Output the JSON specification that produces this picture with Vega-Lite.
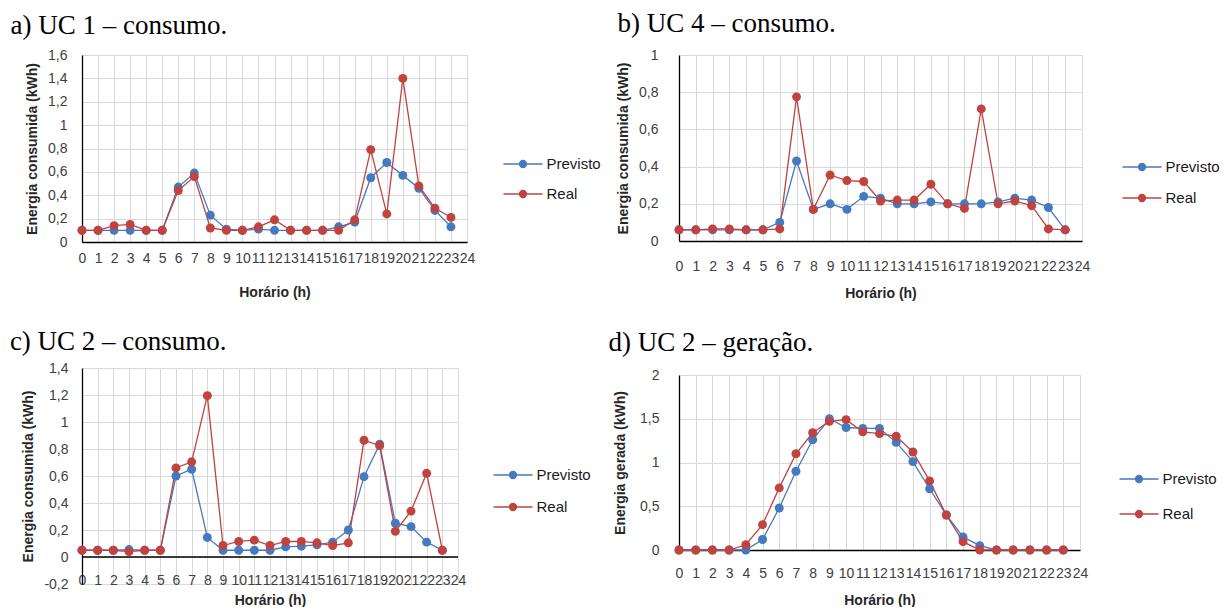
{
  "$schema": "https://vega.github.io/schema/vega-lite/v6.json",
  "padding": {"left": 9, "top": 10, "right": 0, "bottom": 0},
  "background": "white",
  "data": {"values": [
    {"panel":"a","serie":"Previsto","hora":0,"valor":0.10},{"panel":"a","serie":"Previsto","hora":1,"valor":0.10},{"panel":"a","serie":"Previsto","hora":2,"valor":0.10},{"panel":"a","serie":"Previsto","hora":3,"valor":0.10},{"panel":"a","serie":"Previsto","hora":4,"valor":0.10},{"panel":"a","serie":"Previsto","hora":5,"valor":0.10},{"panel":"a","serie":"Previsto","hora":6,"valor":0.47},{"panel":"a","serie":"Previsto","hora":7,"valor":0.59},{"panel":"a","serie":"Previsto","hora":8,"valor":0.23},{"panel":"a","serie":"Previsto","hora":9,"valor":0.11},{"panel":"a","serie":"Previsto","hora":10,"valor":0.10},{"panel":"a","serie":"Previsto","hora":11,"valor":0.11},{"panel":"a","serie":"Previsto","hora":12,"valor":0.10},{"panel":"a","serie":"Previsto","hora":13,"valor":0.10},{"panel":"a","serie":"Previsto","hora":14,"valor":0.10},{"panel":"a","serie":"Previsto","hora":15,"valor":0.10},{"panel":"a","serie":"Previsto","hora":16,"valor":0.13},{"panel":"a","serie":"Previsto","hora":17,"valor":0.17},{"panel":"a","serie":"Previsto","hora":18,"valor":0.55},{"panel":"a","serie":"Previsto","hora":19,"valor":0.68},{"panel":"a","serie":"Previsto","hora":20,"valor":0.57},{"panel":"a","serie":"Previsto","hora":21,"valor":0.46},{"panel":"a","serie":"Previsto","hora":22,"valor":0.27},{"panel":"a","serie":"Previsto","hora":23,"valor":0.13},
    {"panel":"a","serie":"Real","hora":0,"valor":0.10},{"panel":"a","serie":"Real","hora":1,"valor":0.10},{"panel":"a","serie":"Real","hora":2,"valor":0.14},{"panel":"a","serie":"Real","hora":3,"valor":0.15},{"panel":"a","serie":"Real","hora":4,"valor":0.10},{"panel":"a","serie":"Real","hora":5,"valor":0.10},{"panel":"a","serie":"Real","hora":6,"valor":0.44},{"panel":"a","serie":"Real","hora":7,"valor":0.56},{"panel":"a","serie":"Real","hora":8,"valor":0.12},{"panel":"a","serie":"Real","hora":9,"valor":0.10},{"panel":"a","serie":"Real","hora":10,"valor":0.10},{"panel":"a","serie":"Real","hora":11,"valor":0.13},{"panel":"a","serie":"Real","hora":12,"valor":0.19},{"panel":"a","serie":"Real","hora":13,"valor":0.10},{"panel":"a","serie":"Real","hora":14,"valor":0.10},{"panel":"a","serie":"Real","hora":15,"valor":0.10},{"panel":"a","serie":"Real","hora":16,"valor":0.10},{"panel":"a","serie":"Real","hora":17,"valor":0.19},{"panel":"a","serie":"Real","hora":18,"valor":0.79},{"panel":"a","serie":"Real","hora":19,"valor":0.24},{"panel":"a","serie":"Real","hora":20,"valor":1.40},{"panel":"a","serie":"Real","hora":21,"valor":0.48},{"panel":"a","serie":"Real","hora":22,"valor":0.29},{"panel":"a","serie":"Real","hora":23,"valor":0.21},
    {"panel":"b","serie":"Previsto","hora":0,"valor":0.06},{"panel":"b","serie":"Previsto","hora":1,"valor":0.06},{"panel":"b","serie":"Previsto","hora":2,"valor":0.06},{"panel":"b","serie":"Previsto","hora":3,"valor":0.06},{"panel":"b","serie":"Previsto","hora":4,"valor":0.06},{"panel":"b","serie":"Previsto","hora":5,"valor":0.06},{"panel":"b","serie":"Previsto","hora":6,"valor":0.10},{"panel":"b","serie":"Previsto","hora":7,"valor":0.43},{"panel":"b","serie":"Previsto","hora":8,"valor":0.17},{"panel":"b","serie":"Previsto","hora":9,"valor":0.20},{"panel":"b","serie":"Previsto","hora":10,"valor":0.17},{"panel":"b","serie":"Previsto","hora":11,"valor":0.24},{"panel":"b","serie":"Previsto","hora":12,"valor":0.23},{"panel":"b","serie":"Previsto","hora":13,"valor":0.20},{"panel":"b","serie":"Previsto","hora":14,"valor":0.20},{"panel":"b","serie":"Previsto","hora":15,"valor":0.21},{"panel":"b","serie":"Previsto","hora":16,"valor":0.20},{"panel":"b","serie":"Previsto","hora":17,"valor":0.20},{"panel":"b","serie":"Previsto","hora":18,"valor":0.20},{"panel":"b","serie":"Previsto","hora":19,"valor":0.21},{"panel":"b","serie":"Previsto","hora":20,"valor":0.23},{"panel":"b","serie":"Previsto","hora":21,"valor":0.22},{"panel":"b","serie":"Previsto","hora":22,"valor":0.18},{"panel":"b","serie":"Previsto","hora":23,"valor":0.06},
    {"panel":"b","serie":"Real","hora":0,"valor":0.06},{"panel":"b","serie":"Real","hora":1,"valor":0.06},{"panel":"b","serie":"Real","hora":2,"valor":0.065},{"panel":"b","serie":"Real","hora":3,"valor":0.065},{"panel":"b","serie":"Real","hora":4,"valor":0.06},{"panel":"b","serie":"Real","hora":5,"valor":0.06},{"panel":"b","serie":"Real","hora":6,"valor":0.065},{"panel":"b","serie":"Real","hora":7,"valor":0.775},{"panel":"b","serie":"Real","hora":8,"valor":0.17},{"panel":"b","serie":"Real","hora":9,"valor":0.355},{"panel":"b","serie":"Real","hora":10,"valor":0.325},{"panel":"b","serie":"Real","hora":11,"valor":0.32},{"panel":"b","serie":"Real","hora":12,"valor":0.215},{"panel":"b","serie":"Real","hora":13,"valor":0.22},{"panel":"b","serie":"Real","hora":14,"valor":0.22},{"panel":"b","serie":"Real","hora":15,"valor":0.305},{"panel":"b","serie":"Real","hora":16,"valor":0.20},{"panel":"b","serie":"Real","hora":17,"valor":0.175},{"panel":"b","serie":"Real","hora":18,"valor":0.71},{"panel":"b","serie":"Real","hora":19,"valor":0.20},{"panel":"b","serie":"Real","hora":20,"valor":0.215},{"panel":"b","serie":"Real","hora":21,"valor":0.19},{"panel":"b","serie":"Real","hora":22,"valor":0.065},{"panel":"b","serie":"Real","hora":23,"valor":0.06},
    {"panel":"c","serie":"Previsto","hora":0,"valor":0.05},{"panel":"c","serie":"Previsto","hora":1,"valor":0.05},{"panel":"c","serie":"Previsto","hora":2,"valor":0.05},{"panel":"c","serie":"Previsto","hora":3,"valor":0.055},{"panel":"c","serie":"Previsto","hora":4,"valor":0.05},{"panel":"c","serie":"Previsto","hora":5,"valor":0.05},{"panel":"c","serie":"Previsto","hora":6,"valor":0.60},{"panel":"c","serie":"Previsto","hora":7,"valor":0.65},{"panel":"c","serie":"Previsto","hora":8,"valor":0.145},{"panel":"c","serie":"Previsto","hora":9,"valor":0.05},{"panel":"c","serie":"Previsto","hora":10,"valor":0.05},{"panel":"c","serie":"Previsto","hora":11,"valor":0.05},{"panel":"c","serie":"Previsto","hora":12,"valor":0.05},{"panel":"c","serie":"Previsto","hora":13,"valor":0.075},{"panel":"c","serie":"Previsto","hora":14,"valor":0.08},{"panel":"c","serie":"Previsto","hora":15,"valor":0.09},{"panel":"c","serie":"Previsto","hora":16,"valor":0.11},{"panel":"c","serie":"Previsto","hora":17,"valor":0.20},{"panel":"c","serie":"Previsto","hora":18,"valor":0.595},{"panel":"c","serie":"Previsto","hora":19,"valor":0.835},{"panel":"c","serie":"Previsto","hora":20,"valor":0.25},{"panel":"c","serie":"Previsto","hora":21,"valor":0.225},{"panel":"c","serie":"Previsto","hora":22,"valor":0.11},{"panel":"c","serie":"Previsto","hora":23,"valor":0.05},
    {"panel":"c","serie":"Real","hora":0,"valor":0.05},{"panel":"c","serie":"Real","hora":1,"valor":0.05},{"panel":"c","serie":"Real","hora":2,"valor":0.05},{"panel":"c","serie":"Real","hora":3,"valor":0.04},{"panel":"c","serie":"Real","hora":4,"valor":0.05},{"panel":"c","serie":"Real","hora":5,"valor":0.05},{"panel":"c","serie":"Real","hora":6,"valor":0.66},{"panel":"c","serie":"Real","hora":7,"valor":0.705},{"panel":"c","serie":"Real","hora":8,"valor":1.195},{"panel":"c","serie":"Real","hora":9,"valor":0.085},{"panel":"c","serie":"Real","hora":10,"valor":0.115},{"panel":"c","serie":"Real","hora":11,"valor":0.125},{"panel":"c","serie":"Real","hora":12,"valor":0.085},{"panel":"c","serie":"Real","hora":13,"valor":0.115},{"panel":"c","serie":"Real","hora":14,"valor":0.115},{"panel":"c","serie":"Real","hora":15,"valor":0.105},{"panel":"c","serie":"Real","hora":16,"valor":0.085},{"panel":"c","serie":"Real","hora":17,"valor":0.105},{"panel":"c","serie":"Real","hora":18,"valor":0.865},{"panel":"c","serie":"Real","hora":19,"valor":0.825},{"panel":"c","serie":"Real","hora":20,"valor":0.19},{"panel":"c","serie":"Real","hora":21,"valor":0.34},{"panel":"c","serie":"Real","hora":22,"valor":0.62},{"panel":"c","serie":"Real","hora":23,"valor":0.05},
    {"panel":"d","serie":"Previsto","hora":0,"valor":0},{"panel":"d","serie":"Previsto","hora":1,"valor":0},{"panel":"d","serie":"Previsto","hora":2,"valor":0},{"panel":"d","serie":"Previsto","hora":3,"valor":0},{"panel":"d","serie":"Previsto","hora":4,"valor":0},{"panel":"d","serie":"Previsto","hora":5,"valor":0.12},{"panel":"d","serie":"Previsto","hora":6,"valor":0.48},{"panel":"d","serie":"Previsto","hora":7,"valor":0.90},{"panel":"d","serie":"Previsto","hora":8,"valor":1.26},{"panel":"d","serie":"Previsto","hora":9,"valor":1.50},{"panel":"d","serie":"Previsto","hora":10,"valor":1.40},{"panel":"d","serie":"Previsto","hora":11,"valor":1.39},{"panel":"d","serie":"Previsto","hora":12,"valor":1.39},{"panel":"d","serie":"Previsto","hora":13,"valor":1.23},{"panel":"d","serie":"Previsto","hora":14,"valor":1.01},{"panel":"d","serie":"Previsto","hora":15,"valor":0.70},{"panel":"d","serie":"Previsto","hora":16,"valor":0.40},{"panel":"d","serie":"Previsto","hora":17,"valor":0.15},{"panel":"d","serie":"Previsto","hora":18,"valor":0.05},{"panel":"d","serie":"Previsto","hora":19,"valor":0},{"panel":"d","serie":"Previsto","hora":20,"valor":0},{"panel":"d","serie":"Previsto","hora":21,"valor":0},{"panel":"d","serie":"Previsto","hora":22,"valor":0},{"panel":"d","serie":"Previsto","hora":23,"valor":0},
    {"panel":"d","serie":"Real","hora":0,"valor":0},{"panel":"d","serie":"Real","hora":1,"valor":0},{"panel":"d","serie":"Real","hora":2,"valor":0},{"panel":"d","serie":"Real","hora":3,"valor":0},{"panel":"d","serie":"Real","hora":4,"valor":0.06},{"panel":"d","serie":"Real","hora":5,"valor":0.29},{"panel":"d","serie":"Real","hora":6,"valor":0.71},{"panel":"d","serie":"Real","hora":7,"valor":1.10},{"panel":"d","serie":"Real","hora":8,"valor":1.34},{"panel":"d","serie":"Real","hora":9,"valor":1.47},{"panel":"d","serie":"Real","hora":10,"valor":1.49},{"panel":"d","serie":"Real","hora":11,"valor":1.35},{"panel":"d","serie":"Real","hora":12,"valor":1.33},{"panel":"d","serie":"Real","hora":13,"valor":1.30},{"panel":"d","serie":"Real","hora":14,"valor":1.12},{"panel":"d","serie":"Real","hora":15,"valor":0.79},{"panel":"d","serie":"Real","hora":16,"valor":0.40},{"panel":"d","serie":"Real","hora":17,"valor":0.095},{"panel":"d","serie":"Real","hora":18,"valor":0},{"panel":"d","serie":"Real","hora":19,"valor":0},{"panel":"d","serie":"Real","hora":20,"valor":0},{"panel":"d","serie":"Real","hora":21,"valor":0},{"panel":"d","serie":"Real","hora":22,"valor":0},{"panel":"d","serie":"Real","hora":23,"valor":0}
  ]},
  "resolve": {"legend": {"color": "independent"}},
  "spacing": 7,
  "hconcat": [
    {
      "resolve": {"legend": {"color": "independent"}},
      "spacing": 29,
      "vconcat": [
        {
          "title": {"text": "a) UC 1 – consumo.", "dx": -15, "offset": 8},
          "width": 385, "height": 187,
          "transform": [{"filter": "datum.panel == 'a'"}],
          "encoding": {
            "x": {"field": "hora", "type": "quantitative", "scale": {"domain": [0, 24], "nice": false},
                  "axis": {"title": "Horário (h)", "values": [0,1,2,3,4,5,6,7,8,9,10,11,12,13,14,15,16,17,18,19,20,21,22,23,24], "labelPadding": 9, "titlePadding": 20}},
            "y": {"field": "valor", "type": "quantitative", "scale": {"domain": [0, 1.6], "nice": false},
                  "axis": {"title": "Energia consumida (kWh)", "values": [0,0.2,0.4,0.6,0.8,1,1.2,1.4,1.6], "labelPadding": 15, "titlePadding": 8}},
            "color": {"field": "serie", "type": "nominal",
                      "scale": {"domain": ["Previsto", "Real"], "range": ["#4579C0", "#C0433F"]},
                      "legend": {"orient": "none", "legendX": 428, "legendY": 96, "rowPadding": 9,
                                 "symbolType": "M-1.625,0H-0.29A0.29,0.29 0 1,1 0.29,0H1.625M0.29,0A0.29,0.29 0 1,1 -0.29,0",
                                 "encode": {"symbols": {"update": {"fill": {"scale": "color", "field": "value"}, "stroke": {"scale": "color", "field": "value"}, "strokeWidth": {"value": 1.3}, "opacity": {"value": 1}}}}}}
          },
          "layer": [
            {"mark": {"type": "line", "strokeWidth": 1.3}},
            {"mark": {"type": "point", "filled": true, "size": 80, "opacity": 1}}
          ]
        },
        {
          "title": {"text": "c) UC 2 – consumo.", "dx": -12, "offset": 5},
          "width": 376, "height": 216,
          "transform": [{"filter": "datum.panel == 'c'"}],
          "encoding": {
            "x": {"field": "hora", "type": "quantitative", "scale": {"domain": [0, 24], "nice": false},
                  "axis": {"title": "Horário (h)", "values": [0,1,2,3,4,5,6,7,8,9,10,11,12,13,14,15,16,17,18,19,20,21,22,23,24], "labelPadding": -11, "titlePadding": 6, "domain": false}},
            "y": {"field": "valor", "type": "quantitative", "scale": {"domain": [-0.2, 1.4], "nice": false},
                  "axis": {"title": "Energia consumida (kWh)", "values": [-0.2,0,0.2,0.4,0.6,0.8,1,1.2,1.4], "labelPadding": 14, "titlePadding": 8}},
            "color": {"field": "serie", "type": "nominal",
                      "scale": {"domain": ["Previsto", "Real"], "range": ["#4579C0", "#C0433F"]},
                      "legend": {"orient": "none", "legendX": 418, "legendY": 94, "rowPadding": 11,
                                 "symbolType": "M-1.625,0H-0.29A0.29,0.29 0 1,1 0.29,0H1.625M0.29,0A0.29,0.29 0 1,1 -0.29,0",
                                 "encode": {"symbols": {"update": {"fill": {"scale": "color", "field": "value"}, "stroke": {"scale": "color", "field": "value"}, "strokeWidth": {"value": 1.3}, "opacity": {"value": 1}}}}}}
          },
          "layer": [
            {"data": {"values": [{"zero": 0}]}, "mark": {"type": "rule", "color": "#000000", "strokeWidth": 1.3}, "encoding": {"y": {"field": "zero", "type": "quantitative"}, "x": null, "color": null}},
            {"mark": {"type": "line", "strokeWidth": 1.3}},
            {"mark": {"type": "point", "filled": true, "size": 80, "opacity": 1}}
          ]
        }
      ]
    },
    {
      "resolve": {"legend": {"color": "independent"}},
      "spacing": 29,
      "vconcat": [
        {
          "title": {"text": "b) UC 4 – consumo.", "dx": 1, "offset": 10},
          "width": 403, "height": 186,
          "transform": [{"filter": "datum.panel == 'b'"}],
          "encoding": {
            "x": {"field": "hora", "type": "quantitative", "scale": {"domain": [0, 24], "nice": false},
                  "axis": {"title": "Horário (h)", "values": [0,1,2,3,4,5,6,7,8,9,10,11,12,13,14,15,16,17,18,19,20,21,22,23,24], "labelPadding": 18, "titlePadding": 13}},
            "y": {"field": "valor", "type": "quantitative", "scale": {"domain": [0, 1], "nice": false},
                  "axis": {"title": "Energia consumida (kWh)", "values": [0,0.2,0.4,0.6,0.8,1], "labelPadding": 21, "titlePadding": 8}},
            "color": {"field": "serie", "type": "nominal",
                      "scale": {"domain": ["Previsto", "Real"], "range": ["#4579C0", "#C0433F"]},
                      "legend": {"orient": "none", "legendX": 450, "legendY": 99, "rowPadding": 10,
                                 "symbolType": "M-1.625,0H-0.29A0.29,0.29 0 1,1 0.29,0H1.625M0.29,0A0.29,0.29 0 1,1 -0.29,0",
                                 "encode": {"symbols": {"update": {"fill": {"scale": "color", "field": "value"}, "stroke": {"scale": "color", "field": "value"}, "strokeWidth": {"value": 1.3}, "opacity": {"value": 1}}}}}}
          },
          "layer": [
            {"mark": {"type": "line", "strokeWidth": 1.3}},
            {"mark": {"type": "point", "filled": true, "size": 80, "opacity": 1}}
          ]
        },
        {
          "title": {"text": "d) UC 2 – geração.", "dx": -5, "offset": 11},
          "width": 401, "height": 175,
          "transform": [{"filter": "datum.panel == 'd'"}],
          "encoding": {
            "x": {"field": "hora", "type": "quantitative", "scale": {"domain": [0, 24], "nice": false},
                  "axis": {"title": "Horário (h)", "values": [0,1,2,3,4,5,6,7,8,9,10,11,12,13,14,15,16,17,18,19,20,21,22,23,24], "labelPadding": 16, "titlePadding": 13}},
            "y": {"field": "valor", "type": "quantitative", "scale": {"domain": [0, 2], "nice": false},
                  "axis": {"title": "Energia gerada (kWh)", "values": [0,0.5,1,1.5,2], "labelPadding": 20, "titlePadding": 12}},
            "color": {"field": "serie", "type": "nominal",
                      "scale": {"domain": ["Previsto", "Real"], "range": ["#4579C0", "#C0433F"]},
                      "legend": {"orient": "none", "legendX": 447, "legendY": 91, "rowPadding": 14,
                                 "symbolType": "M-1.625,0H-0.29A0.29,0.29 0 1,1 0.29,0H1.625M0.29,0A0.29,0.29 0 1,1 -0.29,0",
                                 "encode": {"symbols": {"update": {"fill": {"scale": "color", "field": "value"}, "stroke": {"scale": "color", "field": "value"}, "strokeWidth": {"value": 1.3}, "opacity": {"value": 1}}}}}}
          },
          "layer": [
            {"mark": {"type": "line", "strokeWidth": 1.3}},
            {"mark": {"type": "point", "filled": true, "size": 80, "opacity": 1}}
          ]
        }
      ]
    }
  ],
  "config": {
    "view": {"stroke": null},
    "font": "Liberation Sans",
    "title": {"anchor": "start", "frame": "bounds", "baseline": "alphabetic", "font": "Liberation Serif", "fontSize": 27, "fontWeight": "normal", "color": "#000000"},
    "axis": {
      "labelFont": "Liberation Sans", "labelFontSize": 14, "labelColor": "#404040",
      "titleFont": "Liberation Sans", "titleFontSize": 14, "titleFontWeight": "bold", "titleColor": "#262626",
      "gridColor": "#d9d9d9", "gridWidth": 1, "gridOpacity": 1,
      "domainColor": "#000000", "domainWidth": 1.3,
      "ticks": false, "labelOverlap": false, "labelFlush": false, "labelBound": false,
      "labelExpr": "replace(replace(format(datum.value, '.1~f'), '.', ','), '\u2212', '-')"
    },
    "axisX": {"labelAngle": 0},
    "legend": {
      "title": null, "padding": 0, "symbolSize": 576, "symbolStrokeWidth": 1.3,
      "labelFont": "Liberation Sans", "labelFontSize": 15, "labelColor": "#1a1a1a", "labelOffset": 10.5
    }
  }
}
